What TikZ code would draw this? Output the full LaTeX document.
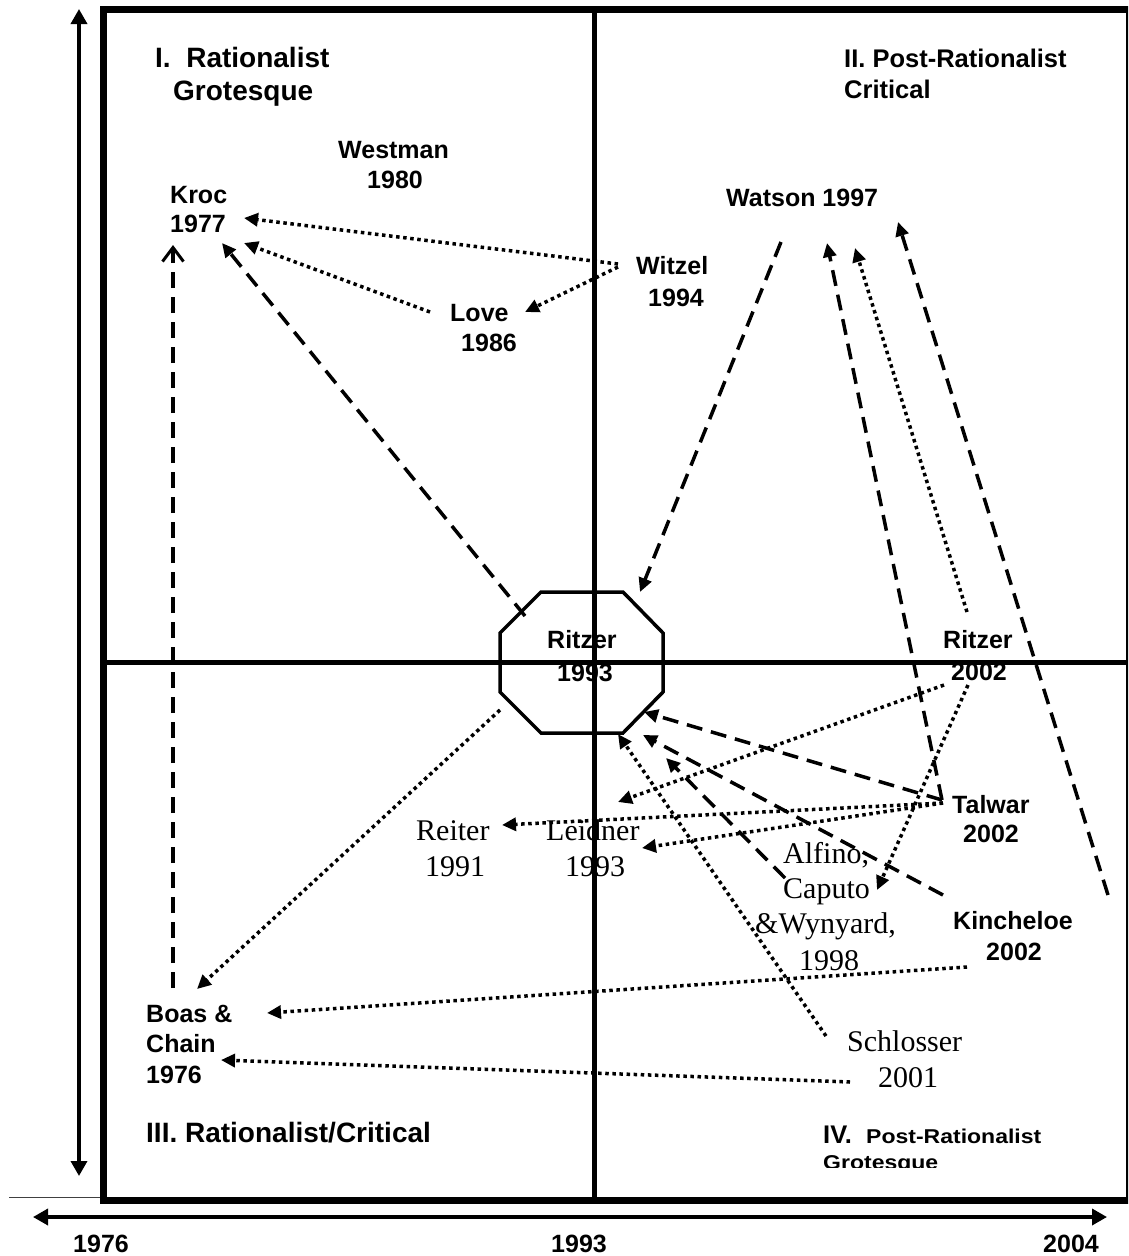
\documentclass[tikz,border=0pt]{standalone}
\usepackage{fontspec}
\setmainfont{Liberation Serif}
\setsansfont{Liberation Sans}
\newfontfamily\widesans{Liberation Sans}[FakeStretch=1.15]
\usetikzlibrary{arrows.meta}
\begin{document}
\begin{tikzpicture}[x=1pt,y=-1pt,
  lab/.style={font=\fontsize{25}{30}\selectfont\sffamily\bfseries, inner sep=0pt, anchor=base west},
  hd/.style={font=\fontsize{28}{33}\selectfont\sffamily\bfseries, inner sep=0pt, anchor=base west},
  hdb/.style={font=\fontsize{25.5}{30}\selectfont\sffamily\bfseries, inner sep=0pt, anchor=base west},
  hds/.style={font=\fontsize{20}{24}\selectfont\widesans\bfseries, inner sep=0pt, anchor=base west},
  ser/.style={font=\fontsize{30}{36}\selectfont\rmfamily, inner sep=0pt, anchor=base west},
  tip/.style={-{Triangle[length=14pt,width=13pt]}},
  dotl/.style={tip, line width=3.5pt, dash pattern=on 3.5pt off 3.6pt},
  dashl/.style={tip, line width=3.5pt, dash pattern=on 16pt off 9pt},
  framel/.style={line width=7pt},
  crossl/.style={line width=5pt},
  axisl/.style={line width=3.5pt, {Triangle[length=15pt,width=16pt]}-{Triangle[length=15pt,width=16pt]}}
]
\clip (0,0) rectangle (1128,1256);
\fill[white] (0,0) rectangle (1128,1256);

% frame and axes
\draw[framel] (103.5,9) rectangle (1129.5,1200);
\draw[crossl] (107,662) -- (1128,662);
\draw[crossl] (594,12) -- (594,1197);
\draw[line width=1pt, black!75] (9,1197) -- (100,1197);
\draw[axisl] (79,9) -- (79,1176);
\draw[axisl] (33,1217) -- (1107,1217);
\node[lab] (y1976) at (73,1252) {1976};
\node[lab] (y1993) at (551,1252) {1993};
\node[lab] (y2004) at (1043,1252) {2004};

% quadrant headings
\node[hd] (q1a) at (155,67) {I.\ \ Rationalist};
\node[hd] (q1b) at (173,100) {Grotesque};
\node[hdb] (q2a) at (844,67) {II. Post-Rationalist};
\node[hdb] (q2b) at (844,98) {Critical};
\node[hd] (q3) at (146,1142) {III. Rationalist/Critical};
\begin{scope}
\clip (800,1100) rectangle (1110,1167);
\node[hdb] (q4a) at (823,1143) {IV.};
\node[hds] (q4b) at (866,1143) {Post-Rationalist};
\node[hds] (q4c) at (823,1169) {Grotesque};
\end{scope}

% octagon
\draw[line width=3.5pt, line join=miter] (541,592) -- (623,592) -- (663,633) -- (663,692) -- (623,733) -- (541,733) -- (500,692) -- (500,633) -- cycle;
\coordinate (oct) at (581.5,662.5);

% sans labels
\node[lab] (westman) at (338,158) {Westman};
\node[lab] (westman2) at (367,188) {1980};
\node[lab] (kroc) at (170,203) {Kroc};
\node[lab] (kroc2) at (170,232) {1977};
\node[lab] (love) at (450,321) {Love};
\node[lab] (love2) at (461,351) {1986};
\node[lab] (witzel) at (636,274) {Witzel};
\node[lab] (witzel2) at (648,306) {1994};
\node[lab] (watson) at (726,206) {Watson 1997};
\node[lab] (ritzerA) at (547,648) {Ritzer};
\node[lab] (ritzerA2) at (557,681) {1993};
\node[lab] (ritzerB) at (943,648) {Ritzer};
\node[lab] (ritzerB2) at (951,680) {2002};
\node[lab] (talwar) at (952,813) {Talwar};
\node[lab] (talwar2) at (963,842) {2002};
\node[lab] (kinch) at (953,929) {Kincheloe};
\node[lab] (kinch2) at (986,960) {2002};
\node[lab] (boas) at (146,1022) {Boas \&};
\node[lab] (boas2) at (146,1052) {Chain};
\node[lab] (boas3) at (146,1083) {1976};

% serif labels
\node[ser] (reiter) at (416,840) {Reiter};
\node[ser] (reiter2) at (425,876) {1991};
\node[ser] (leidner) at (546,840) {Leidner};
\node[ser] (leidner2) at (565,876) {1993};
\node[ser] (alfino) at (783,863) {Alfino,};
\node[ser] (alfino2) at (783,898) {Caputo};
\node[ser] (alfino3) at (755,933) {\&Wynyard,};
\node[ser] (alfino4) at (799,970) {1998};
\node[ser] (schl) at (847,1051) {Schlosser};
\node[ser] (schl2) at (878,1087) {2001};

% connector end points
\coordinate (witzelA) at (618,264);
\coordinate (witzelB) at (618,267);
\coordinate (krocT1) at (244,218);
\coordinate (krocT2) at (244,243);
\coordinate (krocT3) at (222,243);
\coordinate (krocT4) at (173,245);
\coordinate (loveL) at (430,312);
\coordinate (loveT) at (525,312);
\coordinate (octUL) at (525,616);
\coordinate (octLL) at (500,710);
\coordinate (octT1) at (640,592);
\coordinate (octT2) at (644,712);
\coordinate (octT3) at (643,735);
\coordinate (octT4) at (666,758);
\coordinate (octT5) at (618,734);
\coordinate (boasT1) at (197,989);
\coordinate (boasT2) at (267,1013);
\coordinate (boasT3) at (221,1060);
\coordinate (boasTop) at (173,988);
\coordinate (watsonS) at (781,242);
\coordinate (watsonT1) at (827,243);
\coordinate (watsonT2) at (855,248);
\coordinate (watsonT3) at (898,222);
\coordinate (ritzerBtop) at (967,612);
\coordinate (ritzerBa) at (944,685);
\coordinate (ritzerBb) at (968,685);
\coordinate (talwarL) at (942,800);
\coordinate (talwarLd) at (943,803);
\coordinate (kinchR) at (1108,895);
\coordinate (kinchL) at (943,895);
\coordinate (kinchB) at (967,967);
\coordinate (alfinoS) at (785,878);
\coordinate (alfinoT) at (877,890);
\coordinate (schlA) at (826,1036);
\coordinate (schlB) at (850,1082);
\coordinate (reiterT) at (502,825);
\coordinate (leidnerT1) at (618,802);
\coordinate (leidnerT2) at (642,848);

% dotted connectors
\draw[dotl] (witzelA) -- (krocT1);
\draw[dotl] (loveL) -- (krocT2);
\draw[dotl] (witzelB) -- (loveT);
\draw[dotl] (octLL) -- (boasT1);
\draw[dotl] (ritzerBtop) -- (watsonT2);
\draw[dotl] (schlA) -- (octT5);
\draw[dotl] (ritzerBa) -- (leidnerT1);
\draw[dotl] (ritzerBb) -- (alfinoT);
\draw[dotl] (talwarLd) -- (reiterT);
\draw[dotl] (talwarLd) -- (leidnerT2);
\draw[dotl] (kinchB) -- (boasT2);
\draw[dotl] (schlB) -- (boasT3);

% dashed connectors
\draw[dashl] (octUL) -- (krocT3);
\draw[line width=3.5pt, dash pattern=on 16pt off 9pt, -{Straight Barb[length=14pt,width=21pt,line width=3pt]}] (boasTop) -- (krocT4);
\draw[dashl] (watsonS) -- (octT1);
\draw[dashl] (talwarL) -- (watsonT1);
\draw[dashl] (kinchR) -- (watsonT3);
\draw[dashl] (talwarL) -- (octT2);
\draw[dashl] (kinchL) -- (octT3);
\draw[dashl] (alfinoS) -- (octT4);
\end{tikzpicture}
\end{document}
